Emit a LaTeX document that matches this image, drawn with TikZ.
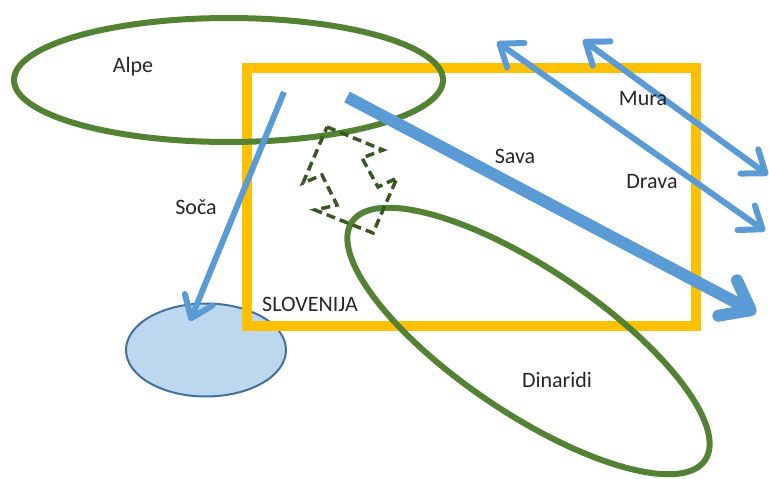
\documentclass[tikz,border=0pt]{standalone}
\usepackage{fontspec}
\setmainfont{Carlito}
\usetikzlibrary{arrows.meta,positioning,shapes}

\definecolor{ridge}{HTML}{548235}
\definecolor{ridgedark}{HTML}{385723}
\definecolor{river}{HTML}{5B9BD5}
\definecolor{border}{HTML}{FFC000}
\definecolor{lakefill}{HTML}{BDD7EE}
\definecolor{lakeline}{HTML}{41719C}

\begin{document}
\begin{tikzpicture}[x=1pt,y=-1pt]
		\tikzstyle{placename} = [draw=none, text=black!85, font=\fontsize{22}{26}\selectfont]
		\tikzstyle{ridgeline} = [ellipse, draw=ridge, line width=6pt, inner sep=0pt]
		\tikzstyle{flow} = [draw=river, line width=6pt, -{Straight Barb[length=20pt,width=30pt,round]}]
		\tikzstyle{flowboth} = [draw=river, line width=6pt, {Straight Barb[length=20pt,width=30pt,round]}-{Straight Barb[length=20pt,width=30pt,round]}]
		\useasboundingbox (0,0) rectangle (769,479);

		\node [ellipse, draw=lakeline, fill=lakefill, line width=2pt, minimum width=160pt, minimum height=93pt, inner sep=0pt] (lake) at (206,350) {};
		\node [draw=border, line width=9.5pt, minimum width=449pt, minimum height=258pt, inner sep=0pt] (slovenija) at (471.5,197) {};
		\node [ridgeline, minimum width=429pt, minimum height=124pt] (alpe) at (228.5,80) {};
		\node [ridgeline, minimum width=426pt, minimum height=144pt, rotate=-34] (dinaridi) at (528.5,341) {};

		% dashed double arrow
		\draw [ridgedark, line width=3.5pt, dash pattern=on 9pt off 5pt, line join=miter]
			(327,127) -- (383,150) -- (362,158) -- (378,187) -- (397,178) -- (373,233)
			-- (315,210) -- (337,205) -- (322,175) -- (303,183) -- cycle;

		\coordinate (soca start) at (284,92);
		\coordinate (soca end) at (190,321);
		\coordinate (sava start) at (347,97);
		\coordinate (sava end) at (756,313);
		\coordinate (drava start) at (497,42);
		\coordinate (drava end) at (765,231);
		\coordinate (mura start) at (583,40);
		\coordinate (mura end) at (768,175);

		\path [flow] (soca start) -- (soca end);
		\path [flow, line width=12pt, -{Straight Barb[length=26pt,width=40pt,round]}] (sava start) -- (sava end);
		\path [flowboth] (drava start) -- (drava end);
		\path [flowboth] (mura start) -- (mura end);

		\node [placename] (alpelabel) at (133,67) {Alpe};
		\node [placename] (socalabel) at (196,207) {Soča};
		\node [placename] (savalabel) at (515,156) {Sava};
		\node [placename] (muralabel) at (643,99) {Mura};
		\node [placename] (dravalabel) at (652,182) {Drava};
		\node [placename] (slolabel) at (310,304) {SLOVENIJA};
		\node [placename] (dinlabel) at (557,380) {Dinaridi};
	\end{tikzpicture}
\end{document}
